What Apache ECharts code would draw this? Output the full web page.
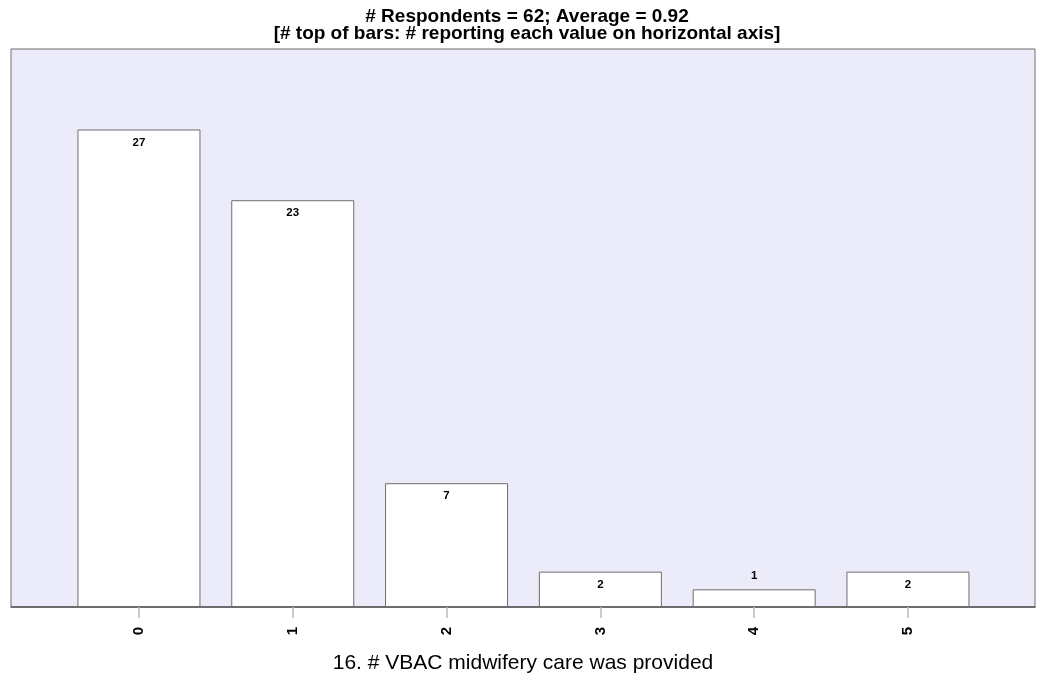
<!DOCTYPE html>
<html><head><meta charset="utf-8">
<script src="https://cdn.jsdelivr.net/npm/echarts@6/dist/echarts.min.js"></script>
<style>html,body{margin:0;padding:0;background:#fff}#c{width:1042px;height:677px}</style>
</head><body><div id="c"></div>
<script>
const categories = [0, 1, 2, 3, 4, 5];
const counts = [27, 23, 7, 2, 1, 2];
const labelPos = ['insideTop','insideTop','insideTop','insideTop','top','insideTop'];
const titleLines = ['# Respondents = 62; Average = 0.92', '[# top of bars: # reporting each value on horizontal axis]'];
const xName = '16. # VBAC midwifery care was provided';

const chart = echarts.init(document.getElementById('c'), null, {renderer:'canvas'});
chart.setOption({
  animation:false,
  backgroundColor:'#fff',
  title:{
    text: titleLines.join('\n'),
    left: 522, top: 3, textAlign:'center',
    textStyle:{fontFamily:'Arial, "Liberation Sans", sans-serif', fontWeight:'bold', fontSize:19, lineHeight:17, color:'#000'}
  },
  grid:{left:11, right:7, top:49, bottom:70, outerBoundsMode:'none', containLabel:false, show:true, backgroundColor:'#ebebf9', borderColor:'#6e6e6e', borderWidth:1},
  xAxis:{
    type:'value', min:-0.832, max:5.826, interval:1,
    splitLine:{show:false},
    axisLine:{show:true, onZero:false, lineStyle:{color:'#555', width:1.5}},
    axisTick:{show:true, length:11, lineStyle:{color:'#bbb', width:1.5}, customValues: categories},
    axisLabel:{rotate:90, fontFamily:'Arial, "Liberation Sans", sans-serif', fontWeight:'bold', fontSize:15, color:'#000', margin:20, customValues: categories},
    name: xName, nameLocation:'middle', nameGap:46,
    nameTextStyle:{fontFamily:'Arial, "Liberation Sans", sans-serif', fontSize:21, color:'#000'}
  },
  yAxis:{type:'value', min:0, max:31.55, show:false, splitLine:{show:false}},
  series:[{
    type:'bar',
    barWidth:123,
    data: categories.map((c,i)=>({value:[c, counts[i]], label:{position:labelPos[i]}})),
    itemStyle:{color:'#fff', borderColor:'#6e6e6e', borderWidth:1},
    label:{show:true, formatter:p=>p.value[1], fontFamily:'Arial, "Liberation Sans", sans-serif', fontWeight:'bold', fontSize:11.5, color:'#000', distance:7}
  }]
});
</script></body></html>
